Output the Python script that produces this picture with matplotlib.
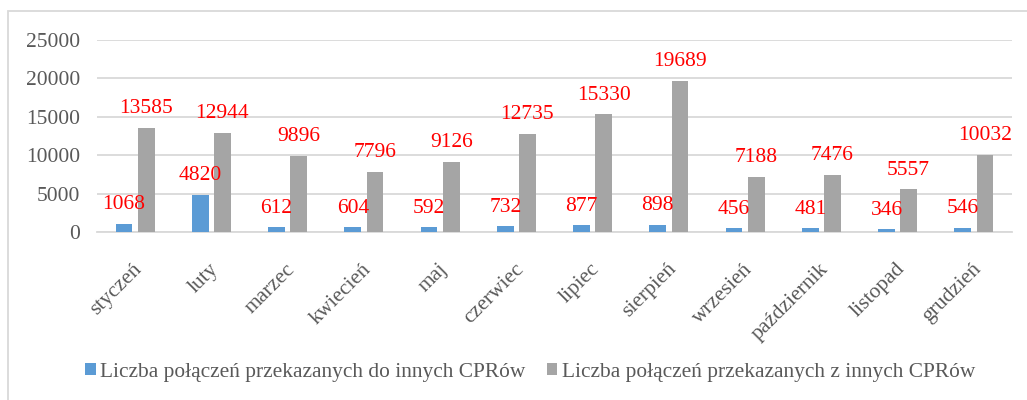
#!/usr/bin/env python3
"""Monthly calls forwarded to/from other CPRs - grouped bar chart."""

import matplotlib

matplotlib.use("Agg")
import matplotlib.pyplot as plt
import numpy as np
from matplotlib.patches import Rectangle

MONTHS = ["styczeń", "luty", "marzec", "kwiecień", "maj", "czerwiec",
          "lipiec", "sierpień", "wrzesień", "październik", "listopad", "grudzień"]
TO_OTHER = [1068, 4820, 612, 604, 592, 732, 877, 898, 456, 481, 346, 546]
FROM_OTHER = [13585, 12944, 9896, 7796, 9126, 12735, 15330, 19689, 7188, 7476, 5557, 10032]
SERIES_NAMES = ["Liczba połączeń przekazanych do innych CPRów",
                "Liczba połączeń przekazanych z innych CPRów"]
Y_TICKS = [0, 5000, 10000, 15000, 20000, 25000]

BLUE = "#5B9BD5"
GRAY = "#A5A5A5"
TEXT = "#595959"
GRID = "#D9D9D9"

plt.rcParams["font.family"] = ["Liberation Serif", "DejaVu Serif"]

fig = plt.figure(figsize=(10.27, 4.0), dpi=100)
ax = fig.add_axes([0.0944, 0.42, 0.891, 0.48])

x = np.arange(len(MONTHS))
width = 0.22
off = 0.145
bars_a = ax.bar(x - off, TO_OTHER, width, color=BLUE, label=SERIES_NAMES[0], zorder=3)
bars_b = ax.bar(x + off, FROM_OTHER, width, color=GRAY, label=SERIES_NAMES[1], zorder=3)

for bars in (bars_a, bars_b):
    for b in bars:
        ax.annotate(f"{int(b.get_height())}", (b.get_x() + b.get_width() / 2, b.get_height()),
                    xytext=(0, 7), textcoords="offset points", ha="center", va="bottom",
                    color="red", fontsize=15.5)

ax.set_xlim(-0.5, len(MONTHS) - 0.5)
ax.set_ylim(0, 25000)
ax.set_yticks(Y_TICKS)
ax.set_yticklabels([str(v) for v in Y_TICKS], fontsize=15.5, color=TEXT)
ax.set_xticks(x - 0.03)
ax.set_xticklabels(MONTHS, rotation=45, ha="right", rotation_mode="anchor",
                   fontsize=15.5, color=TEXT)
ax.tick_params(axis="both", length=0)
ax.tick_params(axis="y", pad=12)
ax.tick_params(axis="x", pad=20)
ax.grid(axis="y", color=GRID, linewidth=1.3, zorder=0)
for side in ("top", "right", "left"):
    ax.spines[side].set_visible(False)
ax.spines["bottom"].set_color(GRID)
ax.spines["bottom"].set_linewidth(1.3)

fig.legend(handles=[bars_a, bars_b], loc="center", bbox_to_anchor=(0.516, 0.07), ncol=2,
           frameon=False, fontsize=15.4, labelcolor=TEXT, handlelength=0.5, handleheight=0.5,
           handletextpad=0.2, columnspacing=1.0)

fig.patches.append(Rectangle((8 / 1027, -0.01), 1.0, 1 - 11 / 400 + 0.01,
                             transform=fig.transFigure, fill=False,
                             edgecolor=GRID, linewidth=1.3))

fig.savefig("out.png", dpi=100)
